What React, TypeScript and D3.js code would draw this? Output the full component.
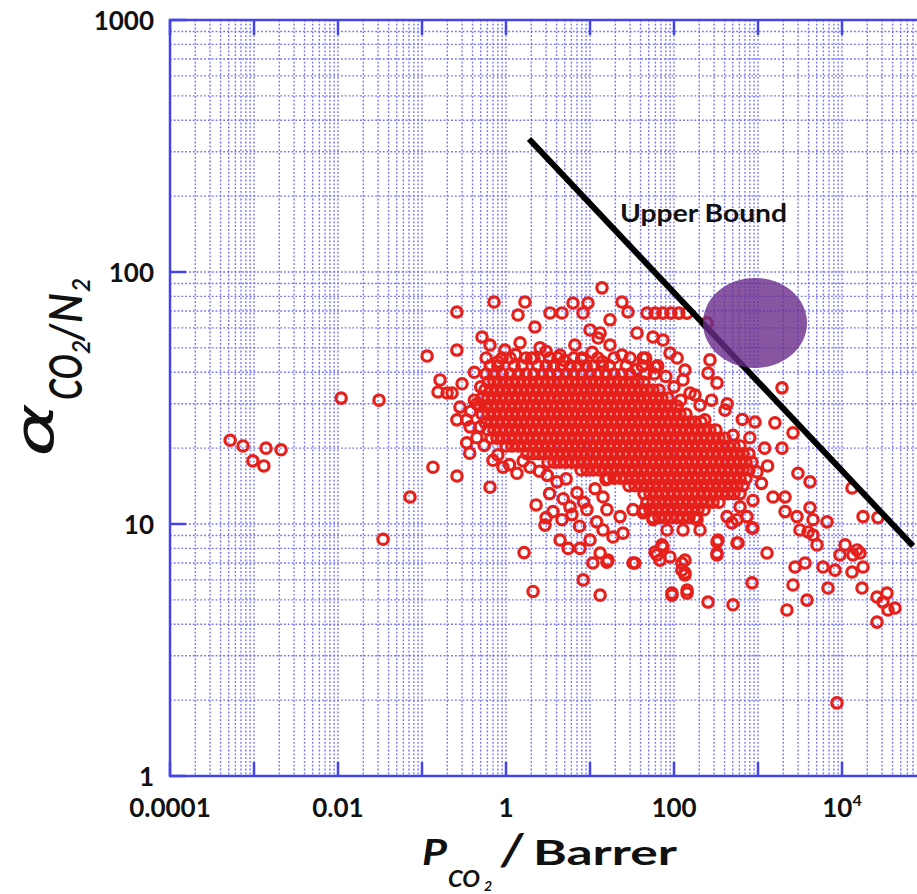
import React from 'react';
import * as d3 from 'd3';

// ---------- axes ----------
const xDomain: [number, number] = [1e-4, 1e5];
const yDomain: [number, number] = [1, 1000];
const xTickValues = [1e-4, 1e-2, 1, 100, 1e4];
const xTickLabels = ['0.0001', '0.01', '1', '100', '10|4'];
const yTickValues = [1, 10, 100, 1000];
const yTickLabels = ['1', '10', '100', '1000'];

// ---------- Robeson upper bound & highlight ----------
const upperBoundP = [1.88, 70000];
const upperBoundAlpha = [337, 8.18];
const upperBoundLabel = { P: 22.8, alpha: 158, text: 'Upper Bound' };
const highlightCenter = { P: 921, alpha: 62.8 };

// ---------- membranes: [P_CO2 (Barrer), alpha CO2/N2] ----------
const farLeftPoints: [number, number][] = [
  [0.00052, 21.5], [0.00074, 20.4], [0.00097, 17.8], [0.00131, 17.0], [0.00139, 20.0],
  [0.0021, 19.7], [0.0109, 31.6], [0.0308, 31.0], [0.072, 12.8], [0.0344, 8.7],
  [0.135, 16.8], [0.261, 15.5],
];

const leftEdgePoints: [number, number][] = [
  [0.115, 46.4], [0.164, 37.3], [0.155, 33.4], [0.199, 33.1], [0.26, 69.4], [0.26, 49],
  [0.518, 55.2], [0.72, 76], [0.228, 33.1], [0.283, 29.1], [0.34, 25.9], [0.26, 25.9],
  [0.373, 24.3], [0.49, 24.3], [0.34, 21.0], [0.37, 19.1], [0.645, 14.0], [0.7, 17.9],
  [0.92, 16.8], [1.35, 15.9], [1.93, 16.8], [2.28, 11.9], [4.05, 14.7], [7.0, 13.3],
  [5.78, 11.7], [9.2, 11.4], [14.3, 12.8], [15.5, 15.0], [1.64, 7.7], [2.1, 5.4],
  [2.91, 9.9], [3.63, 11.2], [4.64, 10.4], [6.1, 10.9], [4.4, 8.64], [5.5, 8.0],
  [7.6, 8.0], [10, 8.64], [13.2, 7.67], [10.8, 7.0], [8.3, 6.0], [13.2, 5.22],
  [0.3, 36], [0.42, 31], [0.38, 28], [0.45, 22], [0.55, 20.5], [0.8, 18.8],
  [1.1, 17.2], [1.6, 17.8], [2.5, 16.2], [3.1, 15.6], [5.2, 15.1], [3.3, 13.2],
  [4.8, 12.6], [8.4, 12.2], [11.5, 13.8], [3.0, 10.6], [7.5, 9.8], [12, 10.2],
];

const upperPoints: [number, number][] = [
  [13.9, 86.5], [1.68, 76.0], [1.39, 67.5], [2.21, 60.5], [3.34, 68.8], [4.64, 68.8],
  [6.28, 75.3], [9.46, 75.3], [8.26, 68.8], [13.2, 57.3], [17.3, 64.6], [24.0, 76.0],
  [28.3, 69.4], [36.3, 57.3], [47.7, 68.7], [59.6, 68.7], [73.6, 68.7], [91.8, 68.7],
  [114, 68.7], [143, 68.7], [247, 62.8], [268, 44.8], [254, 39.7], [325, 36.3],
  [1930, 34.7], [405, 28.3], [74, 53.7], [56.2, 55.2], [89.6, 47.7], [109, 45.6],
  [42.8, 45.6], [128, 37.3], [155, 33.1], [10, 58.9], [12.5, 54.7],
  [0.645, 51.3], [0.97, 49], [1.47, 52.4], [2.54, 50], [4.39, 46.8], [6.6, 51.3],
  [10.6, 48], [17.3, 51.3], [24, 46.8], [59.6, 42.0], [135, 40.8], [178, 32.5],
  [204, 29.6], [280, 31], [233, 25.9],
  [0.8, 44], [1.3, 47], [2.0, 45.5], [3.0, 48.5], [5.0, 44.5], [8.0, 45], [14, 44],
  [36, 41], [80, 38.5], [100, 35], [120, 31], [0.42, 40], [0.5, 35], [0.45, 30],
  [0.58, 45.6], [0.9, 45.6], [1.12, 45.6], [1.73, 45.6], [2.15, 45.6], [3.3, 45.6],
  [4.15, 45.6], [6.4, 45.6], [8, 45.6], [12.4, 45.6], [19.3, 45.6], [30, 45.6], [46, 45.6],
];

const rightPoints: [number, number][] = [
  [1930, 20.0], [2610, 23.0], [2990, 15.9], [4160, 14.7], [13150, 13.9], [17800, 10.7],
  [26800, 10.6], [1510, 12.8], [2100, 12.8], [2100, 11.2], [2910, 10.7], [4160, 11.6],
  [4520, 10.4], [6630, 10.2], [3160, 9.47], [3940, 9.3], [4520, 9.04], [5040, 8.26],
  [10900, 8.26], [15100, 7.89], [9460, 7.54], [13500, 7.54], [16400, 7.67], [17800, 6.75],
  [5940, 6.75], [8260, 6.56], [13150, 6.45], [2760, 6.75], [3630, 7.0], [2610, 5.73],
  [6810, 5.57], [17300, 5.57], [26100, 5.13], [34300, 5.32], [30800, 4.9], [35300, 4.56],
  [42800, 4.64], [26100, 4.08], [2210, 4.56], [3830, 4.99], [849, 5.84], [504, 4.78],
  [254, 4.9], [94.6, 5.22], [143, 5.32], [135, 6.28], [124, 6.56], [135, 7.19],
  [62.8, 7.54], [71.9, 8.26], [15.9, 7.06], [34.3, 7.0], [1280, 7.67], [849, 9.64],
  [578, 8.41], [325, 8.49], [325, 7.54], [490, 10.1], [973, 16.1], [1590, 25.2],
  [921, 25.4], [504, 22.5], [8710, 1.95],
  [15.9, 11.4], [14.3, 9.47], [18.8, 8.88], [24.7, 9.2], [16.4, 7.19], [32.5, 7.0],
  [59.4, 7.74], [74, 8.1], [89.6, 7.4], [68, 7.19], [124, 7.0], [135, 6.4],
  [143, 5.47], [94.6, 5.32], [334, 8.64], [325, 7.67], [562, 8.41], [871, 9.64],
  [562, 10.4], [428, 10.7], [740, 10.7], [871, 12.4], [611, 11.7], [204, 9.47],
  [188, 10.4], [128, 9.47], [82.6, 9.47], [56.2, 10.4], [42.8, 11.1], [32.5, 11.4],
  [22.8, 10.7],
  [1100, 14.5], [1300, 17], [1200, 20], [800, 22], [650, 26], [430, 30],
];

// dense core of the cloud: rows of [alpha, P values]
const clusterRows: [number, number[]][] = [
  [42.4, [0.65, 0.8, 1.25, 1.55, 2.4, 3.0, 3.7, 4.6, 5.8, 7.2, 9, 11, 14, 17, 27, 42, 64]],
  [39.4, [0.58, 0.72, 0.9, 1.12, 1.4, 1.73, 2.15, 2.7, 3.3, 4.15, 5.2, 6.4, 8, 10, 12.4, 15.5, 19.3, 24, 30, 46, 58]],
  [36.6, [0.61, 0.72, 0.85, 1.0, 1.18, 1.39, 1.64, 1.93, 2.28, 2.68, 3.16, 3.73, 4.39, 5.18, 6.11, 7.2, 8.48, 10, 11.8, 13.9, 16.4, 19.3, 22.8, 26.8, 31.6, 37.3, 43.9]],
  [34.0, [0.562, 0.663, 0.781, 0.921, 1.086, 1.28, 1.51, 1.78, 2.1, 2.47, 2.91, 3.43, 4.05, 4.77, 5.62, 6.63, 7.81, 9.21, 10.9, 12.8, 15.1, 17.8, 21, 24.7, 29.1, 34.3, 40.5, 47.7, 56.2, 66.3]],
  [31.6, [0.52, 0.61, 0.72, 0.85, 1.0, 1.18, 1.39, 1.64, 1.93, 2.28, 2.68, 3.16, 3.73, 4.39, 5.18, 6.11, 7.2, 8.48, 10, 11.8, 13.9, 16.4, 19.3, 22.8, 26.8, 31.6, 37.3, 43.9, 51.8, 61.1, 72, 84.8]],
  [29.4, [0.477, 0.562, 0.663, 0.781, 0.921, 1.086, 1.28, 1.51, 1.78, 2.1, 2.47, 2.91, 3.43, 4.05, 4.77, 5.62, 6.63, 7.81, 9.21, 10.9, 12.8, 15.1, 17.8, 21, 24.7, 29.1, 34.3, 40.5, 47.7, 56.2, 66.3, 78.1, 92.1, 109]],
  [27.3, [0.52, 0.61, 0.72, 0.85, 1.0, 1.18, 1.39, 1.64, 1.93, 2.28, 2.68, 3.16, 3.73, 4.39, 5.18, 6.11, 7.2, 8.48, 10, 11.8, 13.9, 16.4, 19.3, 22.8, 26.8, 31.6, 37.3, 43.9, 51.8, 61.1, 72, 84.8, 100, 118, 139]],
  [25.4, [0.562, 0.663, 0.781, 0.921, 1.086, 1.28, 1.51, 1.78, 2.1, 2.47, 2.91, 3.43, 4.05, 4.77, 5.62, 6.63, 7.81, 9.21, 10.9, 12.8, 15.1, 17.8, 21, 24.7, 29.1, 34.3, 40.5, 47.7, 56.2, 66.3, 78.1, 92.1, 109, 128, 151, 178, 210]],
  [23.6, [0.61, 0.72, 0.85, 1.0, 1.18, 1.39, 1.64, 1.93, 2.28, 2.68, 3.16, 3.73, 4.39, 5.18, 6.11, 7.2, 8.48, 10, 11.8, 13.9, 16.4, 19.3, 22.8, 26.8, 31.6, 37.3, 43.9, 51.8, 61.1, 72, 84.8, 100, 118, 139, 164, 193, 228, 268, 316]],
  [21.9, [0.663, 0.781, 0.921, 1.086, 1.28, 1.51, 1.78, 2.1, 2.47, 2.91, 3.43, 4.05, 4.77, 5.62, 6.63, 7.81, 9.21, 10.9, 12.8, 15.1, 17.8, 21, 24.7, 29.1, 34.3, 40.5, 47.7, 56.2, 66.3, 78.1, 92.1, 109, 128, 151, 178, 210, 247, 291, 343, 405]],
  [20.4, [1.0, 1.18, 1.39, 1.64, 1.93, 2.28, 2.68, 3.16, 3.73, 4.39, 5.18, 6.11, 7.2, 8.48, 10, 11.8, 13.9, 16.4, 19.3, 22.8, 26.8, 31.6, 37.3, 43.9, 51.8, 61.1, 72, 84.8, 100, 118, 139, 164, 193, 228, 268, 316, 373, 439, 518, 611]],
  [19.0, [1.78, 2.1, 2.47, 2.91, 3.43, 4.05, 4.77, 5.62, 6.63, 7.81, 9.21, 10.9, 12.8, 15.1, 17.8, 21, 24.7, 29.1, 34.3, 40.5, 47.7, 56.2, 66.3, 78.1, 92.1, 109, 128, 151, 178, 210, 247, 291, 343, 405, 477, 562, 663, 781]],
  [17.6, [3.16, 3.73, 4.39, 5.18, 6.11, 7.2, 8.48, 10, 11.8, 13.9, 16.4, 19.3, 22.8, 26.8, 31.6, 37.3, 43.9, 51.8, 61.1, 72, 84.8, 100, 118, 139, 164, 193, 228, 268, 316, 373, 439, 518, 611, 720, 848]],
  [16.4, [7.81, 9.21, 10.9, 12.8, 15.1, 17.8, 21, 24.7, 29.1, 34.3, 40.5, 47.7, 56.2, 66.3, 78.1, 92.1, 109, 128, 151, 178, 210, 247, 291, 343, 405, 477, 562, 663, 781]],
  [15.2, [16.4, 19.3, 22.8, 26.8, 31.6, 37.3, 43.9, 51.8, 61.1, 72, 84.8, 100, 118, 139, 164, 193, 228, 268, 316, 373, 439, 518, 611, 720]],
  [14.2, [29.1, 34.3, 40.5, 47.7, 56.2, 66.3, 78.1, 92.1, 109, 128, 151, 178, 210, 247, 291, 343, 405, 477, 562, 663]],
  [13.2, [43.9, 51.8, 61.1, 72, 84.8, 100, 118, 139, 164, 193, 228, 268, 316, 373, 439, 518, 611]],
  [12.2, [47.7, 56.2, 66.3, 78.1, 92.1, 109, 128, 151, 178, 210, 247, 291, 343]],
  [11.4, [43.9, 51.8, 61.1, 72, 84.8, 100, 118, 139, 164, 193, 228]],
  [10.6, [56.2, 66.3, 78.1, 92.1, 109, 128, 151, 178]],
];

const W = 917;
const H = 894;
const plot = { left: 170, right: 926, top: 20, bottom: 776 };

const GRID = '#5a5aff';
const AXIS = '#4444ee';
const RED = '#e6201b';
const FONT = 'Lato, "Open Sans", sans-serif';

export default function App() {
  const x = d3.scaleLog().domain(xDomain).range([plot.left, plot.right]);
  const y = d3.scaleLog().domain(yDomain).range([plot.bottom, plot.top]);

  const xGrid: number[] = [];
  for (let e = -4; e < 5; e++) for (let m = 1; m <= 9; m++) xGrid.push(m * Math.pow(10, e));
  const yGrid: number[] = [];
  for (let e = 0; e < 3; e++) for (let m = 1; m <= 9; m++) yGrid.push(m * Math.pow(10, e));

  const xMajor = d3.range(-4, 6).map((e) => Math.pow(10, e));
  const yMajor = [1, 10, 100, 1000];

  const clusterPoints: [number, number][] = [];
  clusterRows.forEach(([a, ps]) => ps.forEach((p) => clusterPoints.push([p, a])));
  const allPoints = [...clusterPoints, ...farLeftPoints, ...leftEdgePoints, ...upperPoints, ...rightPoints];

  const line = d3
    .line<number>()
    .x((_, i) => x(upperBoundP[i]))
    .y((_, i) => y(upperBoundAlpha[i]));

  return (
    <div style={{ position: 'absolute', left: 0, top: 0 }}>
      <svg width={W} height={H} style={{ display: 'block', background: '#fff' }}>
        {/* grid */}
        <g stroke={GRID} strokeWidth={1.4} strokeDasharray="1.8 2" opacity={0.85}>
          {xGrid.map((v, i) => (
            <line key={'gx' + i} x1={x(v)} x2={x(v)} y1={plot.top} y2={plot.bottom} />
          ))}
          {yGrid.map((v, i) => (
            <line key={'gy' + i} x1={plot.left} x2={plot.right} y1={y(v)} y2={y(v)} />
          ))}
        </g>

        {/* points */}
        <g fill="none" stroke={RED} strokeWidth={3.2}>
          {allPoints.map(([p, a], i) => (
            <circle key={'p' + i} cx={x(p)} cy={y(a)} r={5.2} />
          ))}
        </g>

        {/* upper bound */}
        <path d={line(upperBoundP) || ''} stroke="#000" strokeWidth={6} fill="none" />
        <ellipse
          cx={x(highlightCenter.P)}
          cy={y(highlightCenter.alpha)}
          rx={52}
          ry={45}
          fill="#6a2c8a"
          opacity={0.8}
        />
        <text
          x={x(upperBoundLabel.P)}
          y={y(upperBoundLabel.alpha)}
          fontFamily={FONT}
          fontWeight={700}
          fontSize={24}
          fill="#111"
          textLength={167}
          lengthAdjust="spacingAndGlyphs"
        >
          {upperBoundLabel.text}
        </text>

        {/* frame & ticks */}
        <rect
          x={plot.left}
          y={plot.top}
          width={plot.right - plot.left}
          height={plot.bottom - plot.top}
          fill="none"
          stroke={AXIS}
          strokeWidth={2.5}
        />
        <g stroke={AXIS} strokeWidth={2.5}>
          {xMajor.map((v, i) => (
            <g key={'xt' + i}>
              <line x1={x(v)} x2={x(v)} y1={plot.bottom} y2={plot.bottom - 14} />
              <line x1={x(v)} x2={x(v)} y1={plot.top} y2={plot.top + 15} />
            </g>
          ))}
          {yMajor.map((v, i) => (
            <line key={'yt' + i} x1={plot.left} x2={plot.left + 16} y1={y(v)} y2={y(v)} />
          ))}
        </g>

        {/* tick labels */}
        <g fontFamily={FONT} fontWeight={700} fontSize={26} fill="#111">
          {yTickValues.map((v, i) => (
            <text key={'yl' + i} x={154} y={y(v)} textAnchor="end" dominantBaseline="central">
              {yTickLabels[i]}
            </text>
          ))}
          {xTickValues.map((v, i) => {
            const lab = xTickLabels[i];
            if (lab.includes('|')) {
              const [b, e] = lab.split('|');
              return (
                <text key={'xl' + i} x={x(v)} y={817} textAnchor="middle">
                  {b}
                  <tspan fontSize={16} dy={-11}>
                    {e}
                  </tspan>
                </text>
              );
            }
            return (
              <text key={'xl' + i} x={x(v)} y={817} textAnchor="middle">
                {lab}
              </text>
            );
          })}
        </g>

        {/* y axis title */}
        <g transform="translate(53,457) rotate(-90)" fill="#111" fontFamily={FONT} fontStyle="italic" fontWeight={700}>
          <text x={0} y={0} fontSize={54} fontWeight={400} fontFamily='"DejaVu Sans", sans-serif' textLength={54} lengthAdjust="spacingAndGlyphs">
            α
          </text>
          <text x={57} y={29} fontSize={46} fontWeight={600} textLength={46} lengthAdjust="spacingAndGlyphs">
            CO
          </text>
          <text x={103} y={37} fontSize={24} fontWeight={600}>
            2
          </text>
          <text x={116} y={29} fontSize={46} fontWeight={600} textLength={17} lengthAdjust="spacingAndGlyphs">
            /
          </text>
          <text x={134} y={29} fontSize={46} fontWeight={600} textLength={30} lengthAdjust="spacingAndGlyphs">
            N
          </text>
          <text x={165} y={37} fontSize={24} fontWeight={600}>
            2
          </text>
        </g>

        {/* x axis title */}
        <g fill="#111" fontFamily={FONT} fontWeight={700}>
          <text x={422} y={865} fontSize={36} fontStyle="italic" textLength={25} lengthAdjust="spacingAndGlyphs">
            P
          </text>
          <text x={448} y={887} fontSize={22} fontStyle="italic" textLength={32} lengthAdjust="spacingAndGlyphs">
            CO
          </text>
          <text x={484} y={891} fontSize={14} fontStyle="italic">
            2
          </text>
          <text x={501} y={865} fontSize={44} fontStyle="italic" textLength={22} lengthAdjust="spacingAndGlyphs">
            /
          </text>
          <text x={533} y={865} fontSize={35} textLength={144} lengthAdjust="spacingAndGlyphs">
            Barrer
          </text>
        </g>
      </svg>
    </div>
  );
}
